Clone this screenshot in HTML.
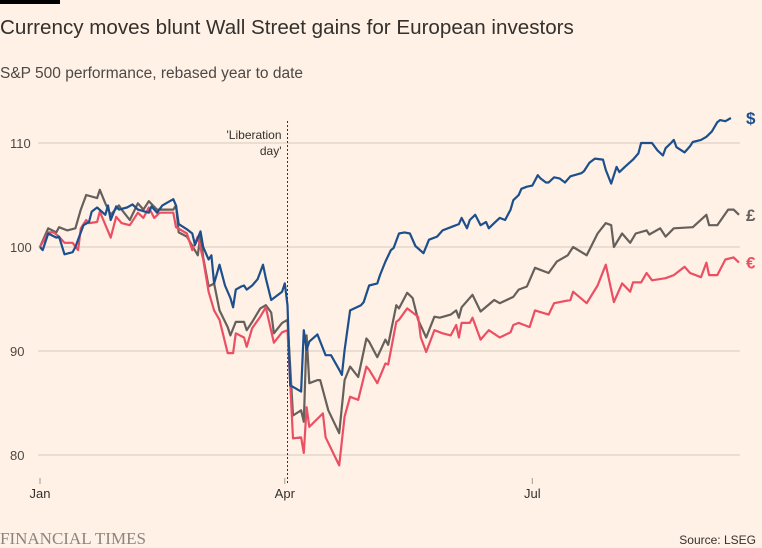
<!DOCTYPE html>
<html><head><meta charset="utf-8">
<style>
body{margin:0;background:#fff1e5;}
#wrap{position:relative;width:762px;height:548px;background:#fff1e5;font-family:"Liberation Sans",sans-serif;overflow:hidden;}
.t{position:absolute;white-space:nowrap;}
</style></head>
<body>
<div id="wrap">
<div style="position:absolute;left:0;top:0;width:60px;height:4px;background:#000"></div>
<div class="t" style="left:0;top:16px;font-size:20.6px;color:#33302e">Currency moves blunt Wall Street gains for European investors</div>
<div class="t" style="left:0;top:65px;font-size:15.5px;color:#4d4845">S&amp;P 500 performance, rebased year to date</div>
<svg id="chart" width="762" height="548" style="position:absolute;left:0;top:0"></svg>
<div class="t" style="left:0;top:529px;font-family:'Liberation Serif',serif;font-size:17px;color:#8a8580">FINANCIAL TIMES</div>
<div class="t" style="right:6px;top:533px;font-size:12px;color:#33302e">Source: LSEG</div>
</div>
<script>
const yTicks=[80,90,100,110];
const xTickDays=[0,90,181];
const xTickLabels=["Jan","Apr","Jul"];
const eventDay=91;
const usdDays=[0,1,3,6,7,9,12,13,15,16,18,19,21,24,25,26,28,29,32,34,36,40,41,43,45,47,49,50,51,54,56,57,59,60,62,63,64,66,68,70,71,72,74,75,76,78,80,82,83,85,89,90,91,92,94,96,97,98,99,102,105,107,110,111,112,114,118,119,121,124,125,127,129,130,132,134,136,138,141,143,146,148,152,154,155,157,158,160,162,164,165,167,169,171,173,174,176,177,179,181,183,184,186,187,189,191,193,195,199,200,202,204,207,208,210,211,212,213,215,218,220,221,225,227,229,230,232,233,234,237,239,240,243,245,247,249,250,252,254];
const usdVals=[100,99.7,101.3,100.9,101.0,99.3,99.5,100,101.4,102.1,102.4,103.4,103.8,103.1,104.0,102.6,103.9,103.6,103.8,104.1,103.6,103.3,103.9,103.3,104.0,104.3,104.6,104.0,102.2,101.7,101.3,100.2,101.5,100.0,98.8,99.2,96.5,98.3,96.3,95.1,94.2,95.9,96.2,96.3,95.9,96.3,96.9,98.3,97.0,94.9,95.7,96.5,94.4,86.7,86.4,86.1,92.0,90.1,90.9,91.6,89.6,89.6,88.2,87.7,90.1,93.9,94.4,94.7,96.3,96.5,97.3,98.6,99.7,99.9,101.3,101.4,101.3,100.1,99.4,100.7,101.0,101.6,102.0,102.2,102.8,101.8,102.6,103.1,102.1,102.4,101.8,102.3,102.8,102.6,103.6,104.5,105.0,105.6,105.8,105.9,106.9,106.6,106.2,106.2,106.7,106.6,106.2,106.8,107.1,107.3,108.1,108.5,108.4,107.4,106.1,106.9,107.7,107.2,107.7,108.4,109.0,110.0,110.0,109.3,108.8,109.5,110.0,110.3,109.6,109.1,109.7,110.1,110.3,110.6,111.1,112.0,112.2,112.1,112.4];
const gbpDays=[0,3,6,7,10,13,15,17,21,22,24,26,29,30,33,36,38,40,43,49,50,51,54,58,59,60,62,64,66,69,70,72,75,76,78,81,83,85,86,89,91,93,96,97,98,99,102,103,106,110,112,114,117,120,121,124,127,128,131,132,135,137,139,142,145,147,151,153,154,155,159,162,167,169,174,176,179,182,187,190,194,196,201,205,208,210,211,214,217,219,223,224,228,230,233,240,245,246,249,253,255,257];
const gbpVals=[100,101.8,101.4,101.9,101.6,101.8,103.6,105.0,104.7,105.5,104.2,103.1,104.0,103.6,102.6,104.2,103.6,104.4,103.6,103.6,104.0,101.4,101.0,99.2,101.3,99.0,96.2,96.5,93.9,92.3,91.5,92.8,92.8,92.0,92.8,94.1,94.4,93.7,91.7,92.7,93.0,83.8,84.3,83.2,91.5,86.9,87.2,87.2,84.3,82.1,87.2,88.5,87.5,91.2,90.9,89.4,91.1,90.6,94.4,94.1,95.6,95.1,93.0,91.3,93.3,93.2,93.5,93.9,93.2,94.2,95.4,93.8,94.9,94.6,95.2,95.9,96.2,98.0,97.5,98.6,99.2,100.0,99.2,101.3,102.3,102.1,100.0,101.3,100.4,101.3,101.6,101.2,101.8,101.0,101.8,101.9,103.1,102.1,102.1,103.6,103.6,103.1];
const eurDays=[0,3,5,7,9,12,14,15,17,18,21,22,26,28,30,33,36,38,40,42,44,49,50,54,56,58,60,62,64,66,69,71,72,75,76,78,81,83,86,89,91,93,96,97,98,99,104,105,110,112,114,117,120,121,124,127,128,131,132,135,139,140,142,145,148,151,153,154,155,158,159,162,165,169,173,174,176,180,182,187,189,195,196,201,205,208,211,214,217,218,221,223,225,230,233,237,239,243,245,246,249,252,255,257];
const eurVals=[100,101.4,101.4,101.0,100.4,100.4,99.7,101.8,102.6,102.3,102.4,103.4,100.9,102.9,102.3,102.1,103.3,102.8,103.8,102.8,103.3,103.3,101.9,101.3,99.7,101.0,98.8,95.7,93.9,93.0,89.8,89.8,91.7,91.3,90.4,92.2,93.3,94.2,90.8,91.8,92.0,81.6,81.7,80.2,84.6,82.7,84.0,81.7,79.0,83.7,85.6,85.3,88.5,88.2,86.9,88.8,88.7,92.8,93.0,94.1,93.3,91.3,89.9,92.0,91.7,91.5,92.5,91.3,92.7,92.7,93.2,91.1,92.0,91.3,91.8,92.5,92.7,92.3,93.9,93.5,94.6,94.9,95.7,94.6,96.3,98.3,94.7,96.5,95.7,96.6,96.6,97.5,96.8,97.0,97.3,98.1,97.5,97.1,98.5,97.3,97.3,98.8,99.0,98.5];

const NS="http://www.w3.org/2000/svg";
const svg=document.getElementById('chart');
const X0=40,PX=2.72,Y100=247,PY=10.4,XL=38,XR=740;
function xs(d){return X0+d*PX;}
function ys(v){return Y100-(v-100)*PY;}
function mk(tag,attrs){const e=document.createElementNS(NS,tag);for(const k in attrs)e.setAttribute(k,attrs[k]);svg.appendChild(e);return e;}

yTicks.forEach(v=>{
  const g=mk('line',{x1:XL,x2:XR,y1:ys(v),y2:ys(v),stroke:'#d6cbc1','stroke-width':1});
  
  
  const t=mk('text',{x:10,y:ys(v)+5,'font-size':13,fill:'#4d4845','font-family':'Liberation Sans, sans-serif'});
  t.textContent=v;
  
  
});
xTickDays.forEach((d,i)=>{
  const l=mk('line',{x1:xs(d),x2:xs(d),y1:478,y2:484,stroke:'#a39b93','stroke-width':1});
  
  
  const t=mk('text',{x:xs(d),y:498,'font-size':13,fill:'#33302e','text-anchor':'middle','font-family':'Liberation Sans, sans-serif'});
  t.textContent=xTickLabels[i];
  
  
});
const ev=mk('line',{x1:xs(eventDay),x2:xs(eventDay),y1:121,y2:484,stroke:'#33302e','stroke-width':1,'stroke-dasharray':'2,2'});


['\'Liberation','day\''].forEach((s,i)=>{
  const t=mk('text',{x:xs(eventDay)-6,y:139+i*16,'font-size':12,fill:'#33302e','text-anchor':'end','font-family':'Liberation Sans, sans-serif'});
  t.textContent=s;
  
  
});
function series(days,vals,color,name,sym){
  const d=days.map((dd,i)=>(i?'L':'M')+xs(dd).toFixed(1)+','+ys(vals[i]).toFixed(1)).join('');
  const p=mk('path',{d:d,fill:'none',stroke:color,'stroke-width':2.2,'stroke-linejoin':'round'});
  
  
  const t=mk('text',{x:746,y:ys(vals[vals.length-1])+6,'font-size':17,'font-weight':'bold',fill:color,'font-family':'Liberation Sans, sans-serif'});
  t.textContent=sym;
  
  
}
series(gbpDays,gbpVals,'#66605c','gbp-line','£');
series(eurDays,eurVals,'#eb4f63','eur-line','€');
series(usdDays,usdVals,'#1c4f8c','usd-line','$');
</script>
</body></html>
